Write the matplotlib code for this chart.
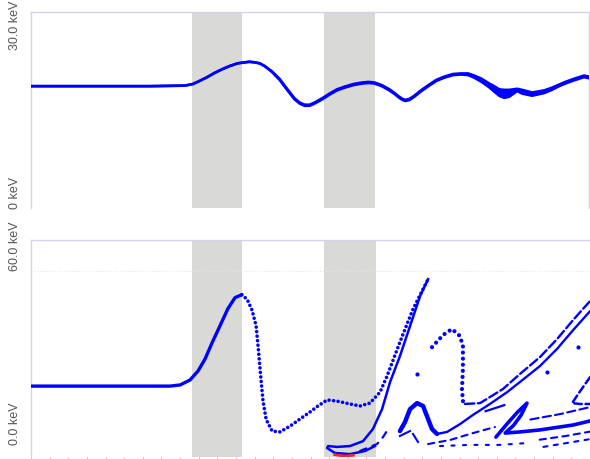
import numpy as np
import matplotlib
matplotlib.use('Agg')
import matplotlib.pyplot as plt

plt.rcParams['font.family'] = ['Liberation Sans Narrow', 'Liberation Sans', 'DejaVu Sans']

BLUE = '#0000ff'
GRAY = '#d9d9d6'
SPINE = '#d2d2ee'

# shaded gaps (position units)
gaps = [(8.64, 11.35), (15.75, 18.49)]

# top panel: energy band vs position (keV)
top_x = [0, 6.39, 8.26, 8.7, 9.07, 9.47, 9.87, 10.28, 10.68, 11.1, 11.49, 11.75, 12.02, 12.3,
         12.56, 12.95, 13.36, 13.77, 14.17, 14.45, 14.71, 14.98, 15.24, 15.65, 16.05, 16.45,
         16.85, 17.33, 17.82, 18.14, 18.46, 18.86, 19.27, 19.55, 19.80, 19.97, 20.13, 20.35,
         20.61, 21.0, 21.41, 21.8, 22.22, 22.7, 23.13, 23.5, 23.83, 24.23, 24.63, 24.9,
         25.17, 25.44, 25.71, 26.14, 26.40, 26.94, 27.59, 28.0, 28.39, 28.8, 29.20, 29.73, 30.0]
top_hi = [23.0, 23.0, 23.1, 23.4, 24.0, 24.7, 25.5, 26.2, 26.8, 27.3, 27.5, 27.6, 27.5, 27.3,
          26.8, 25.8, 24.4, 22.5, 20.7, 19.9, 19.5, 19.5, 19.9, 20.7, 21.6, 22.4,
          22.9, 23.4, 23.7, 23.8, 23.7, 23.2, 22.4, 21.7, 21.0, 20.6, 20.4, 20.6,
          21.2, 22.3, 23.3, 24.2, 24.8, 25.3, 25.4, 25.4, 25.0, 24.4, 23.5, 23.0,
          22.4, 22.3, 22.3, 22.5, 22.3, 21.8, 22.2, 22.7, 23.3, 23.9, 24.4, 25.0, 24.8]
top_lo = [23.0, 23.0, 23.1, 23.4, 24.0, 24.7, 25.5, 26.2, 26.8, 27.3, 27.5, 27.6, 27.5, 27.3,
          26.8, 25.7, 24.2, 22.3, 20.5, 19.7, 19.3, 19.3, 19.7, 20.5, 21.4, 22.2,
          22.7, 23.2, 23.5, 23.6, 23.5, 23.0, 22.2, 21.5, 20.8, 20.4, 20.2, 20.4,
          21.0, 22.1, 23.1, 24.0, 24.6, 25.1, 25.2, 25.1, 24.6, 23.8, 22.8, 22.0,
          21.2, 20.8, 21.0, 22.1, 21.6, 21.2, 21.7, 22.3, 23.0, 23.6, 24.1, 24.7, 24.5]

# bottom panel: particle branches (position, keV)
main_x = [0, 7.46, 8.0, 8.53, 8.96, 9.34, 9.71, 10.14, 10.57, 10.95, 11.31]
main_e = [20.1, 20.1, 20.5, 22.2, 25.3, 29.5, 35.0, 41.0, 47.0, 50.8, 51.8]

tail_x = [11.31, 11.6, 11.86, 12.08, 12.2, 12.32, 12.45, 12.62, 12.94, 13.36, 13.90, 14.44,
          14.97, 15.40, 15.89, 16.42, 17.12, 17.66, 18.19, 18.73, 19.11, 19.80, 20.50,
          21.04, 21.31]
tail_e = [51.8, 50.2, 46.5, 41.0, 33.0, 24.0, 15.0, 8.5, 4.5, 4.2, 6.2, 8.7,
          11.1, 13.2, 15.3, 14.9, 13.9, 13.2, 14.2, 18.0, 23.6, 35.4, 46.8,
          53.8, 57.2]

ret_x = [21.31, 20.88, 20.34, 19.80, 19.27, 18.84, 18.35, 17.82, 17.12, 16.42, 15.94,
         15.89, 16.31, 17.12, 17.93, 18.46]
ret_e = [57.2, 51.3, 40.9, 30.5, 21.5, 12.1, 5.2, 1.0, -0.7, -1.0, -0.7,
         -1.4, -3.1, -3.5, -2.4, -0.7]

red_x = [16.3, 16.8, 17.3]
red_e = [-3.7, -4.2, -3.9]

l1_x = [17.66, 18.19, 18.57, 18.89, 19.2]
l1_e = [-2.4, -1.0, 0.0, 2.4, 5.5]

bump_x = [19.80, 20.07, 20.34, 20.72, 21.04, 21.31, 21.52, 21.79]
bump_e = [4.5, 7.6, 12.1, 14.2, 13.2, 8.7, 5.2, 3.5]

a_x = [21.79, 22.33, 23.02, 23.72, 24.63, 25.55, 26.51, 27.32, 28.23, 29.09, 30.0]
a_e = [3.5, 4.2, 6.9, 10.1, 13.9, 18.0, 22.9, 27.1, 33.0, 39.5, 46.1]

b_x = [23.29, 24.10, 24.63, 25.33, 26.24, 27.32, 28.23, 29.09, 30.0]
b_e = [13.9, 14.2, 16.3, 19.1, 24.3, 30.2, 36.4, 43.0, 49.6]

hook_x = [21.52, 22.11, 22.59, 23.02, 23.18, 23.18, 23.13, 23.18, 23.29]
hook_e = [33.6, 37.8, 39.9, 37.5, 34.0, 26.0, 19.1, 14.9, 13.9]

# wedge ("Z") and the line running on from its foot
z_x = [24.95, 25.55, 26.1, 26.62, 26.3, 25.9, 25.45, 26.24, 27.32, 29.09, 30.0]
z_e = [2.4, 7.0, 11.0, 14.2, 10.0, 6.5, 3.8, 4.2, 4.9, 6.6, 8.0]

zt_x = [24.4, 25.4]
zt_e = [11.4, 13.5]

ll_x = [21.31, 22.49, 23.72, 24.90]
ll_e = [0.0, 1.4, 3.8, 5.9]

brl_x = [26.8, 28.4, 30.0]
brl_e = [8.5, 10.4, 12.8]

br1_x = [27.3, 28.7, 30.0]
br1_e = [1.5, 2.8, 4.3]

br2_x = [27.5, 28.7, 30.0]
br2_e = [-1.0, 0.3, 1.7]

bd_x = [21.95, 23.56, 25.17, 26.51]
bd_e = [-0.7, -0.3, -0.3, 0.3]

lt_x = [30.0, 29.36, 29.04, 29.46, 30.0]
lt_e = [23.2, 17.3, 14.2, 13.9, 13.9]

dash_pieces = [([19.8, 20.34], [2.8, 4.5]), ([20.5, 20.77], [3.5, 0.7])]

dots_x = [20.72, 27.68, 29.36]
dots_e = [24.3, 24.9, 33.6]


fig = plt.figure(figsize=(5.9, 4.6), dpi=100)
ax_top = fig.add_axes([31/590, 251/460, 558/590, 196/460])
ax_bot = fig.add_axes([31/590, 2/460, 559/590, 217/460])

for ax in (ax_top, ax_bot):
    ax.set_xlim(0, 30)
    for a, b in gaps:
        ax.axvspan(a, b, color=GRAY, lw=0, zorder=0)
    for s in ('left', 'top', 'right'):
        ax.spines[s].set_color(SPINE)
        ax.spines[s].set_linewidth(1.0)
    ax.spines['bottom'].set_visible(False)
    ax.set_yticks([])

ax_bot.spines['right'].set_visible(False)

# top panel
ax_top.set_ylim(0, 37.0)
ax_top.set_xticks([])
ax_top.fill_between(top_x, top_lo, top_hi, color=BLUE, lw=0, zorder=2)
ax_top.plot(top_x, top_hi, color=BLUE, lw=1.9, solid_joinstyle='round', zorder=3)
ax_top.plot(top_x, top_lo, color=BLUE, lw=1.9, solid_joinstyle='round', zorder=3)

# bottom panel
ax_bot.set_ylim(-4.5, 70.8)
ax_bot.axhline(60, color='#e2e2f2', lw=0.8, ls=':', zorder=1)
ax_bot.set_xticks(np.arange(0, 31, 1))
ax_bot.set_xticklabels([])
ax_bot.tick_params(axis='x', length=3, width=0.6, color='#a0a0b0', direction='out')

dotted = dict(color=BLUE, dash_capstyle='round', zorder=3)
ax_bot.plot(main_x, main_e, color=BLUE, lw=2.4, solid_capstyle='round',
            solid_joinstyle='round', zorder=3)
ax_bot.plot(tail_x, tail_e, lw=2.6, ls=(0, (0.01, 1.25)), **dotted)
ax_bot.plot(ret_x, ret_e, color=BLUE, lw=1.8, solid_joinstyle='round', zorder=3)
ax_bot.plot(red_x, red_e, color='#ff2222', lw=2.0, zorder=3)
ax_bot.plot(l1_x, l1_e, lw=1.6, ls=(0, (3, 3)), **dotted)
ax_bot.plot(bump_x, bump_e, color=BLUE, lw=3.2, solid_capstyle='round',
            solid_joinstyle='round', zorder=3)
ax_bot.plot(a_x, a_e, color=BLUE, lw=1.7, zorder=3)
ax_bot.plot(b_x, b_e, lw=1.7, ls=(0, (4, 1.5)), **dotted)
ax_bot.plot(hook_x, hook_e, lw=3.0, ls=(0, (0.01, 1.45)), **dotted)
ax_bot.plot(z_x, z_e, color=BLUE, lw=2.6, solid_capstyle='round',
            solid_joinstyle='round', zorder=3)
ax_bot.plot(zt_x, zt_e, color=BLUE, lw=1.6, zorder=3)
ax_bot.plot(ll_x, ll_e, lw=1.5, ls=(0, (3, 2.5)), **dotted)
ax_bot.plot(brl_x, brl_e, lw=1.5, ls=(0, (4, 2)), **dotted)
ax_bot.plot(br1_x, br1_e, lw=1.5, ls=(0, (3, 2.5)), **dotted)
ax_bot.plot(br2_x, br2_e, lw=1.5, ls=(0, (2, 3)), **dotted)
ax_bot.plot(bd_x, bd_e, lw=1.5, ls=(0, (1.5, 4)), **dotted)
ax_bot.plot(lt_x, lt_e, lw=1.8, ls=(0, (3, 1.5)), **dotted)
for px, pe in dash_pieces:
    ax_bot.plot(px, pe, color=BLUE, lw=1.5, zorder=3)
ax_bot.scatter(dots_x, dots_e, s=9, color=BLUE, lw=0, zorder=3)

# rotated energy labels
lab = dict(rotation=90, ha='center', va='bottom', fontsize=9, color='#555555',
           clip_on=False)
ax_top.text(-0.029, 30, '30.0 keV', transform=ax_top.get_yaxis_transform(), **lab)
ax_top.text(-0.029, 0, '0 keV', transform=ax_top.get_yaxis_transform(), **lab)
ax_bot.text(-0.029, 60.5, '60.0 keV', transform=ax_bot.get_yaxis_transform(), **lab)
ax_bot.text(-0.029, 0, '0.0 keV', transform=ax_bot.get_yaxis_transform(), **lab)

fig.savefig('out.png', dpi=100)
